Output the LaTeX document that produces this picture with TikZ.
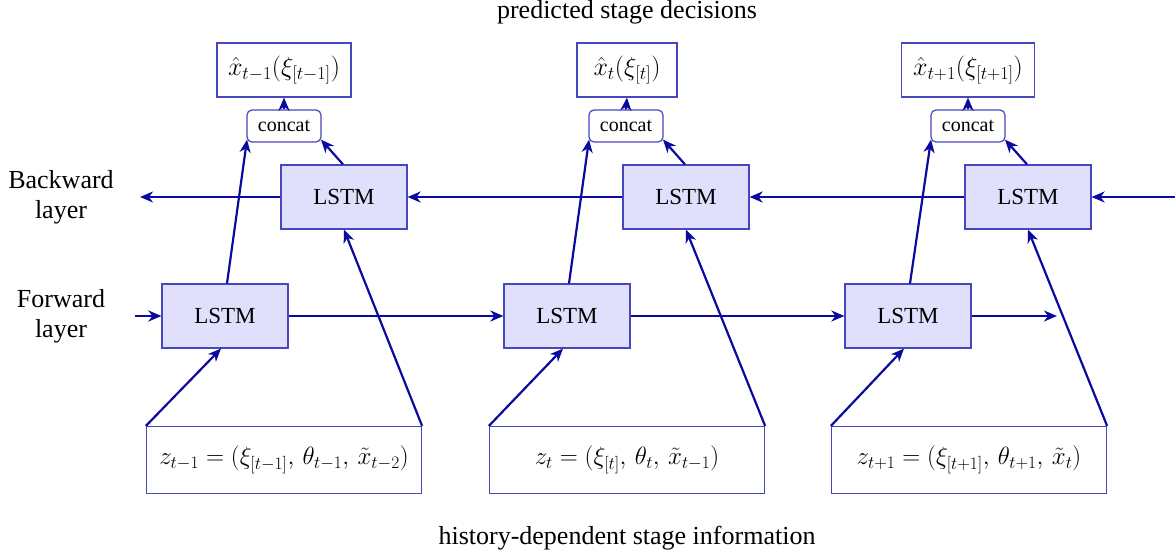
\RequirePackage{fix-cm}
\documentclass[tikz,border=0pt]{standalone}
\usepackage{fontspec}
\setmainfont{Liberation Serif}
\usetikzlibrary{arrows.meta}
\definecolor{lineblue}{RGB}{10,10,160}
\definecolor{boxblue}{RGB}{70,70,190}
\definecolor{fillblue}{RGB}{224,224,252}
\begin{document}
\begin{tikzpicture}[x=1pt,y=-1pt,
  conn/.style={draw=lineblue,line width=2.2pt,-{Stealth[length=13pt,width=11pt,inset=4pt]}},
  lstm/.style={draw=boxblue,line width=1.2pt,fill=fillblue,minimum width=126pt,minimum height=64pt,inner sep=0pt,font=\fontsize{23}{27}\selectfont},
  outbox/.style={draw=boxblue,line width=1.2pt,fill=white,minimum width=134pt,minimum height=54pt,inner sep=0pt,font=\fontsize{26}{30}\selectfont},
  inbox/.style={draw=boxblue,line width=1.2pt,fill=white,minimum width=275pt,minimum height=67pt,inner sep=0pt,font=\fontsize{25}{29}\selectfont},
  catbox/.style={draw=boxblue,line width=1.2pt,fill=white,rounded corners=5pt,minimum width=74pt,minimum height=32pt,inner sep=0pt,font=\fontsize{20}{24}\selectfont},
  lbl/.style={align=center,font=\fontsize{26}{30}\selectfont}]
\useasboundingbox (0,0) rectangle (1175,554);
% labels
\node[lbl] (top) at (627,12) {predicted stage decisions};
\node[lbl] (bot) at (627,538) {history-dependent stage information};
\node[lbl] (bl) at (61,197) {Backward\\layer};
\node[lbl] (fl) at (61,316) {Forward\\layer};
% output boxes
\node[outbox] (o1) at (284,70) {$\hat{x}_{t-1}(\xi_{[t-1]})$};
\node[outbox,minimum width=100pt] (o2) at (627,70) {$\hat{x}_{t}(\xi_{[t]})$};
\node[outbox,minimum width=133pt] (o3) at (968,70) {$\hat{x}_{t+1}(\xi_{[t+1]})$};
% concat
\node[catbox] (c1) at (284,126) {concat};
\node[catbox] (c2) at (626,126) {concat};
\node[catbox] (c3) at (968,126) {concat};
% backward
\node[lstm] (b1) at (344,197) {LSTM};
\node[lstm] (b2) at (686,197) {LSTM};
\node[lstm] (b3) at (1028,197) {LSTM};
% forward
\node[lstm] (f1) at (225,316) {LSTM};
\node[lstm] (f2) at (567,316) {LSTM};
\node[lstm] (f3) at (908,316) {LSTM};
% inputs
\node[inbox] (z1) at (284,460) {$z_{t-1}=\bigl(\xi_{[t-1]},\,\theta_{t-1},\,\tilde{x}_{t-2}\bigr)$};
\node[inbox] (z2) at (627,460) {$z_{t}=\bigl(\xi_{[t]},\,\theta_{t},\,\tilde{x}_{t-1}\bigr)$};
\node[inbox] (z3) at (969,460) {$z_{t+1}=\bigl(\xi_{[t+1]},\,\theta_{t+1},\,\tilde{x}_{t}\bigr)$};
% free ends
\coordinate (bin) at (1175,197);
\coordinate (bout) at (140,197);
\coordinate (fin) at (135,316);
\coordinate (fout) at (1057,316);
% backward chain
\draw[conn] (bin) -- (b3.east);
\draw[conn] (b3.west) -- (b2.east);
\draw[conn] (b2.west) -- (b1.east);
\draw[conn] (b1.west) -- (bout);
% forward chain
\draw[conn] (fin) -- (f1.west);
\draw[conn] (f1.east) -- (f2.west);
\draw[conn] (f2.east) -- (f3.west);
\draw[conn] (f3.east) -- (fout);
% per step
\foreach \i in {1,2,3}{
  \draw[conn] (z\i.north west) -- ([xshift=-4pt]f\i.south);
  \draw[conn] (z\i.north east) -- (b\i.south);
  \draw[conn] ([xshift=2pt]f\i.north) -- ([xshift=-37pt,yshift=3pt]c\i.south);
  \draw[conn] ([xshift=-1pt]b\i.north) -- ([xshift=37pt,yshift=3pt]c\i.south);
  \draw[conn] (c\i.north) -- (o\i.south);
}
\end{tikzpicture}
\end{document}
